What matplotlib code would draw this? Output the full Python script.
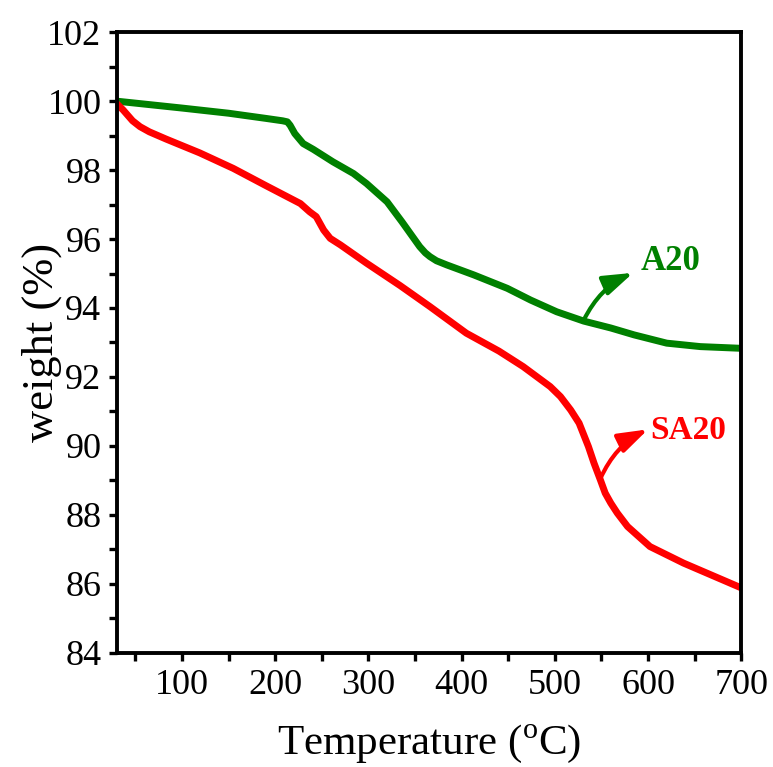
import matplotlib
matplotlib.use("Agg")
import matplotlib.pyplot as plt
from matplotlib.ticker import MultipleLocator

# TGA curves
temp_a20 = [30, 100, 150, 190, 208, 213, 216, 221, 230, 241, 262, 284, 298,
            320, 336, 355, 361, 366, 373, 384, 413, 449, 474, 502, 531, 560,
            585, 620, 656, 700]
weight_a20 = [100.0, 99.80, 99.65, 99.50, 99.43, 99.40, 99.30, 99.06, 98.77,
              98.60, 98.24, 97.90, 97.61, 97.08, 96.50, 95.78, 95.60, 95.49,
              95.37, 95.25, 94.96, 94.57, 94.23, 93.89, 93.62, 93.42, 93.22,
              92.98, 92.88, 92.83]

temp_sa20 = [30, 37, 47, 55, 65, 83, 119, 155, 190, 227, 237, 244, 252, 259,
             270, 298, 334, 366, 405, 440, 466, 495, 506, 517, 526, 536, 542,
             549, 554, 560, 567, 578, 602, 638, 700]
weight_sa20 = [99.93, 99.74, 99.43, 99.26, 99.11, 98.90, 98.50, 98.05, 97.55,
               97.03, 96.79, 96.65, 96.26, 96.02, 95.83, 95.30, 94.65, 94.04,
               93.27, 92.75, 92.30, 91.72, 91.43, 91.04, 90.66, 89.98, 89.50,
               89.00, 88.63, 88.34, 88.05, 87.66, 87.08, 86.60, 85.88]

GREEN = "#008000"
RED = "#ff0000"

plt.rcParams["font.family"] = ["Liberation Serif", "DejaVu Serif"]
plt.rcParams["mathtext.fontset"] = "custom"
plt.rcParams["mathtext.rm"] = "Liberation Serif"

fig = plt.figure(figsize=(7.73, 7.67), dpi=100)
ax = fig.add_axes([0.151, 0.149, 0.808, 0.809])

ax.plot(temp_a20, weight_a20, color=GREEN, lw=5, solid_joinstyle="round")
ax.plot(temp_sa20, weight_sa20, color=RED, lw=5, solid_joinstyle="round")

ax.set_xlim(30, 700)
ax.set_ylim(84, 102)
ax.xaxis.set_major_locator(MultipleLocator(100))
ax.xaxis.set_minor_locator(MultipleLocator(50))
ax.yaxis.set_major_locator(MultipleLocator(2))
ax.yaxis.set_minor_locator(MultipleLocator(1))

for sp in ax.spines.values():
    sp.set_linewidth(2.8)
ax.tick_params(which="both", direction="out", width=2.4, length=6,
               top=False, right=False)
ax.tick_params(axis="y", which="major", labelsize=26, pad=5)
ax.tick_params(axis="x", which="major", labelsize=26, pad=6)

ax.set_ylabel("weight (%)", fontsize=32)
ax.yaxis.set_label_coords(-0.088, 0.5)
ax.set_xlabel(r"Temperature ($^{\mathrm{o}}$C)", fontsize=31, va="top")
ax.xaxis.set_label_coords(0.5, -0.113)

# curved arrow annotations
arrow_style = "-|>,head_length=0.9,head_width=0.3"
ax.annotate("", xy=(584, 95.02), xytext=(531, 93.65),
            arrowprops=dict(arrowstyle=arrow_style, color=GREEN, lw=3,
                            mutation_scale=20,
                            connectionstyle="arc3,rad=-0.18",
                            shrinkA=0, shrinkB=0))
ax.text(592, 95.34, "A20", color=GREEN, fontsize=25, fontweight="bold",
        ha="left", va="center")

ax.annotate("", xy=(600, 90.48), xytext=(548.8, 89.05),
            arrowprops=dict(arrowstyle=arrow_style, color=RED, lw=3,
                            mutation_scale=20,
                            connectionstyle="arc3,rad=-0.18",
                            shrinkA=0, shrinkB=0))
ax.text(602.5, 90.46, "SA20", color=RED, fontsize=24, fontweight="bold",
        ha="left", va="center")

fig.savefig("out.png", dpi=100)
